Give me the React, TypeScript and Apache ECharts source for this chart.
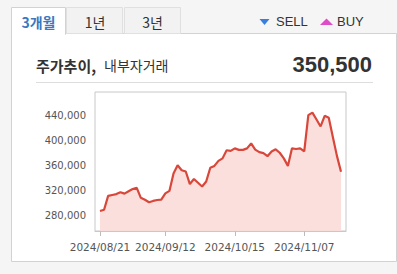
import React, { useEffect, useRef } from "react";
import * as echarts from "echarts";

const dates = [
  "2024/08/21", "2024/08/22", "2024/08/23", "2024/08/26", "2024/08/27", "2024/08/28", "2024/08/29", "2024/08/30",
  "2024/09/02", "2024/09/03", "2024/09/04", "2024/09/05", "2024/09/06", "2024/09/09", "2024/09/10", "2024/09/11",
  "2024/09/12", "2024/09/13", "2024/09/19", "2024/09/20", "2024/09/23", "2024/09/24", "2024/09/25", "2024/09/26",
  "2024/09/27", "2024/09/30", "2024/10/02", "2024/10/04", "2024/10/07", "2024/10/08", "2024/10/10", "2024/10/11",
  "2024/10/14", "2024/10/15", "2024/10/16", "2024/10/17", "2024/10/18", "2024/10/21", "2024/10/22", "2024/10/23",
  "2024/10/24", "2024/10/25", "2024/10/28", "2024/10/29", "2024/10/30", "2024/10/31", "2024/11/01", "2024/11/04",
  "2024/11/05", "2024/11/06", "2024/11/07", "2024/11/08", "2024/11/11", "2024/11/12", "2024/11/13", "2024/11/14",
  "2024/11/15", "2024/11/18", "2024/11/19", "2024/11/20",
];

const prices = [
  288000, 290000, 312000, 313500, 315000, 318000, 315700, 319500, 323000, 325000,
  309000, 306000, 302000, 304000, 305500, 306000, 316000, 320000, 348000, 361000,
  353000, 351000, 331000, 339000, 333000, 327000, 335000, 357000, 360000, 368000,
  372000, 385000, 384000, 388000, 385600, 385600, 388000, 396000, 386000, 382000,
  380300, 375500, 383000, 386500, 381000, 372000, 360000, 388000, 387000, 388000,
  383000, 441000, 445000, 434000, 423000, 440000, 437000, 406000, 376000, 350500,
];

const yTicks = [280000, 320000, 360000, 400000, 440000];
const xTickIdx = [0, 16, 33, 50];
const tabs = ["3개월", "1년", "3년"];
const legendLabels = ["SELL", "BUY"];
const titleBold = "주가추이,";
const titleNormal = "내부자거래";
const lastPrice = "350,500";

const KR = '"Noto Sans CJK KR", "Noto Sans", sans-serif';
const AX = '"DejaVu Sans", sans-serif';
const LT = '"Liberation Sans", Arial, sans-serif';

export default function App() {
  const ref = useRef<HTMLDivElement>(null);
  useEffect(() => {
    if (!ref.current) return;
    const chart = echarts.init(ref.current, null, { renderer: "svg" });
    const data = prices.map((v, i) => [i, v]);
    chart.setOption({
      animation: false,
      backgroundColor: "#f5f5f5",
      grid: {
        left: 95,
        top: 92,
        width: 251,
        height: 139,
        show: true,
        backgroundColor: "#ffffff",
        borderColor: "#c8c8c8",
        borderWidth: 1,
        z: 3,
      },
      xAxis: {
        type: "value",
        min: -1.22,
        max: 60.22,
        axisLine: { show: true, lineStyle: { color: "#c8c8c8" } },
        axisTick: { show: true, length: 5, customValues: xTickIdx, lineStyle: { color: "#bbbbbb" } },
        axisLabel: {
          customValues: xTickIdx,
          formatter: (v: number) => dates[Math.round(v)] || "",
          color: "#555555",
          fontFamily: AX,
          fontSize: 10.5,
          margin: 10,
        },
        splitLine: { show: true, lineStyle: { color: "#ececec" } },
      },
      yAxis: {
        type: "value",
        min: 256000,
        max: 478000,
        axisLine: { show: false },
        axisTick: { show: true, length: 4, customValues: yTicks, lineStyle: { color: "#bbbbbb" } },
        axisLabel: {
          customValues: yTicks,
          formatter: (v: number) => v.toLocaleString("en-US"),
          color: "#555555",
          fontFamily: AX,
          fontSize: 10,
          margin: 9,
        },
        splitLine: { show: true, lineStyle: { color: "#ececec" } },
      },
      series: [
        {
          type: "line",
          data,
          showSymbol: false,
          z: 5,
          lineStyle: { color: "#d8473a", width: 2.2 },
          itemStyle: { color: "#d8473a" },
          areaStyle: { color: "#fbdcd8", opacity: 0.9 },
        },
      ],
      graphic: [
        // panel
        { type: "rect", shape: { x: 11.5, y: 33.5, width: 385, height: 228 }, style: { fill: "#ffffff", stroke: "#d2d2d2", lineWidth: 1 }, z: 0 },
        // inactive tabs
        { type: "rect", shape: { x: 66.5, y: 7.5, width: 56, height: 26 }, style: { fill: "#f2f2f2", stroke: "#e0e0e0", lineWidth: 1 }, z: 1 },
        { type: "rect", shape: { x: 124.5, y: 7.5, width: 56, height: 26 }, style: { fill: "#f2f2f2", stroke: "#e0e0e0", lineWidth: 1 }, z: 1 },
        // active tab
        { type: "rect", shape: { x: 11.5, y: 7.5, width: 54, height: 27 }, style: { fill: "#ffffff", stroke: "#d2d2d2", lineWidth: 1 }, z: 1 },
        { type: "rect", shape: { x: 12, y: 30, width: 53, height: 5 }, style: { fill: "#ffffff" }, z: 2 },
        { type: "text", style: { text: tabs[0], x: 38.5, y: 22, textAlign: "center", textVerticalAlign: "middle", font: `bold 14px ${KR}`, fill: "#3b78c0" }, z: 3 },
        { type: "text", style: { text: tabs[1], x: 95, y: 22, textAlign: "center", textVerticalAlign: "middle", font: `14px ${KR}`, fill: "#333333" }, z: 3 },
        { type: "text", style: { text: tabs[2], x: 152.5, y: 22, textAlign: "center", textVerticalAlign: "middle", font: `14px ${KR}`, fill: "#333333" }, z: 3 },
        // legend
        { type: "polygon", shape: { points: [[259.5, 19], [269.5, 19], [264.5, 25]] }, style: { fill: "#3a7de0" }, z: 3 },
        { type: "text", style: { text: legendLabels[0], x: 276, y: 21.5, textAlign: "left", textVerticalAlign: "middle", font: `13px ${LT}`, fill: "#333333" }, z: 3 },
        { type: "polygon", shape: { points: [[320, 25], [333, 25], [326.5, 18.5]] }, style: { fill: "#e04bc8" }, z: 3 },
        { type: "text", style: { text: legendLabels[1], x: 337, y: 21.5, textAlign: "left", textVerticalAlign: "middle", font: `13px ${LT}`, fill: "#333333" }, z: 3 },
        // title
        { type: "text", style: { text: titleBold, x: 36, y: 65, textAlign: "left", textVerticalAlign: "middle", font: `bold 15px ${KR}`, fill: "#333333" }, z: 3 },
        { type: "text", style: { text: titleNormal, x: 104, y: 65, textAlign: "left", textVerticalAlign: "middle", font: `14px ${KR}`, fill: "#333333" }, z: 3 },
        { type: "text", style: { text: lastPrice, x: 372, y: 64, textAlign: "right", textVerticalAlign: "middle", font: `bold 22px ${LT}`, fill: "#333333" }, z: 3 },
        { type: "line", shape: { x1: 36, y1: 82.5, x2: 373, y2: 82.5 }, style: { stroke: "#dddddd", lineWidth: 1 }, z: 3 },
      ],
    });
    return () => chart.dispose();
  }, []);
  return (
    <div
      ref={ref}
      style={{ position: "absolute", left: 0, top: 0, width: 397, height: 274 }}
    />
  );
}
